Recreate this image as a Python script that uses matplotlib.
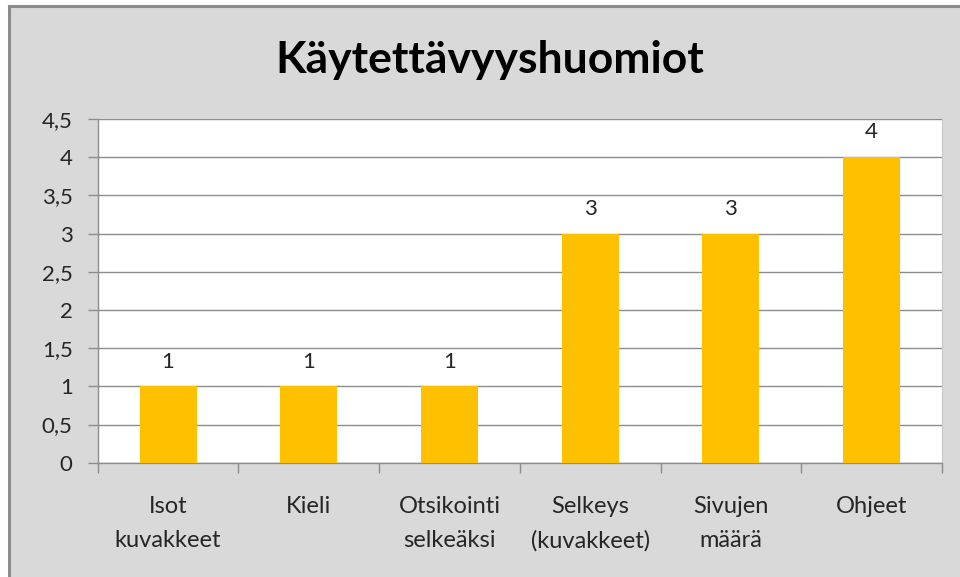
import matplotlib.pyplot as plt
from matplotlib.patches import Rectangle
from matplotlib.ticker import FixedLocator, FuncFormatter

# Chart data
categories = ['Isot\nkuvakkeet', 'Kieli', 'Otsikointi\nselkeäksi',
              'Selkeys\n(kuvakkeet)', 'Sivujen\nmäärä', 'Ohjeet']
counts = [1, 1, 1, 3, 3, 4]
y_ticks = [0, 0.5, 1, 1.5, 2, 2.5, 3, 3.5, 4, 4.5]

W, H = 960, 577
plt.rcParams['font.family'] = ['Lato', 'DejaVu Sans']
grid_col = '#8C8C8C'
text_col = '#262626'
fs = 16

fig = plt.figure(figsize=(W / 100, H / 100), dpi=100, facecolor='white')

# Chart area background with grey border (cut off on the right and bottom)
fig.patches.append(Rectangle((9 / W, -0.05), 1.1, (H - 5.5) / H + 0.05,
                             transform=fig.transFigure, facecolor='#D9D9D9',
                             edgecolor='#8C8C8C', linewidth=2.2, zorder=-1))

left, right, top, bottom = 97.7, 942, 119, 462.7
ax = fig.add_axes([left / W, (H - bottom) / H, (right - left) / W, (bottom - top) / H])
ax.set_zorder(1)
ax.set_facecolor('white')

x = list(range(len(categories)))
bars = ax.bar(x, counts, width=0.405, color='#FFC000', zorder=3)

for xi, v in zip(x, counts):
    ax.annotate(str(v), (xi, v), xytext=(0, 13.5), textcoords='offset points',
                ha='center', va='baseline', fontsize=fs, color=text_col)

ax.set_xlim(-0.5, len(categories) - 0.5)
ax.set_ylim(0, 4.5)
ax.yaxis.set_major_locator(FixedLocator(y_ticks))
ax.yaxis.set_major_formatter(FuncFormatter(lambda v, p: ('%g' % v).replace('.', ',')))
ax.grid(axis='y', color=grid_col, linewidth=1.0, zorder=1)

ax.set_xticks(x)
ax.set_xticklabels(categories, fontsize=17, color=text_col, linespacing=1.75)
ax.set_xticks([i - 0.5 for i in range(len(categories) + 1)], minor=True)
ax.tick_params(axis='x', which='major', length=0, pad=24)
ax.tick_params(axis='x', which='minor', length=7, color=grid_col, width=1)
ax.tick_params(axis='y', length=7, color=grid_col, width=1, labelsize=fs,
               labelcolor=text_col, pad=11)

for s in ['left', 'bottom']:
    ax.spines[s].set_color(grid_col)
    ax.spines[s].set_linewidth(1.0)
ax.spines['top'].set_visible(False)
ax.spines['right'].set_color('#C8C8C8')

fig.text(490 / W, 1 - 60 / H, 'Käytettävyyshuomiot', ha='center', va='center',
         fontsize=32, fontweight='bold', color='black')

fig.savefig('out.png', dpi=100, facecolor=fig.get_facecolor())
